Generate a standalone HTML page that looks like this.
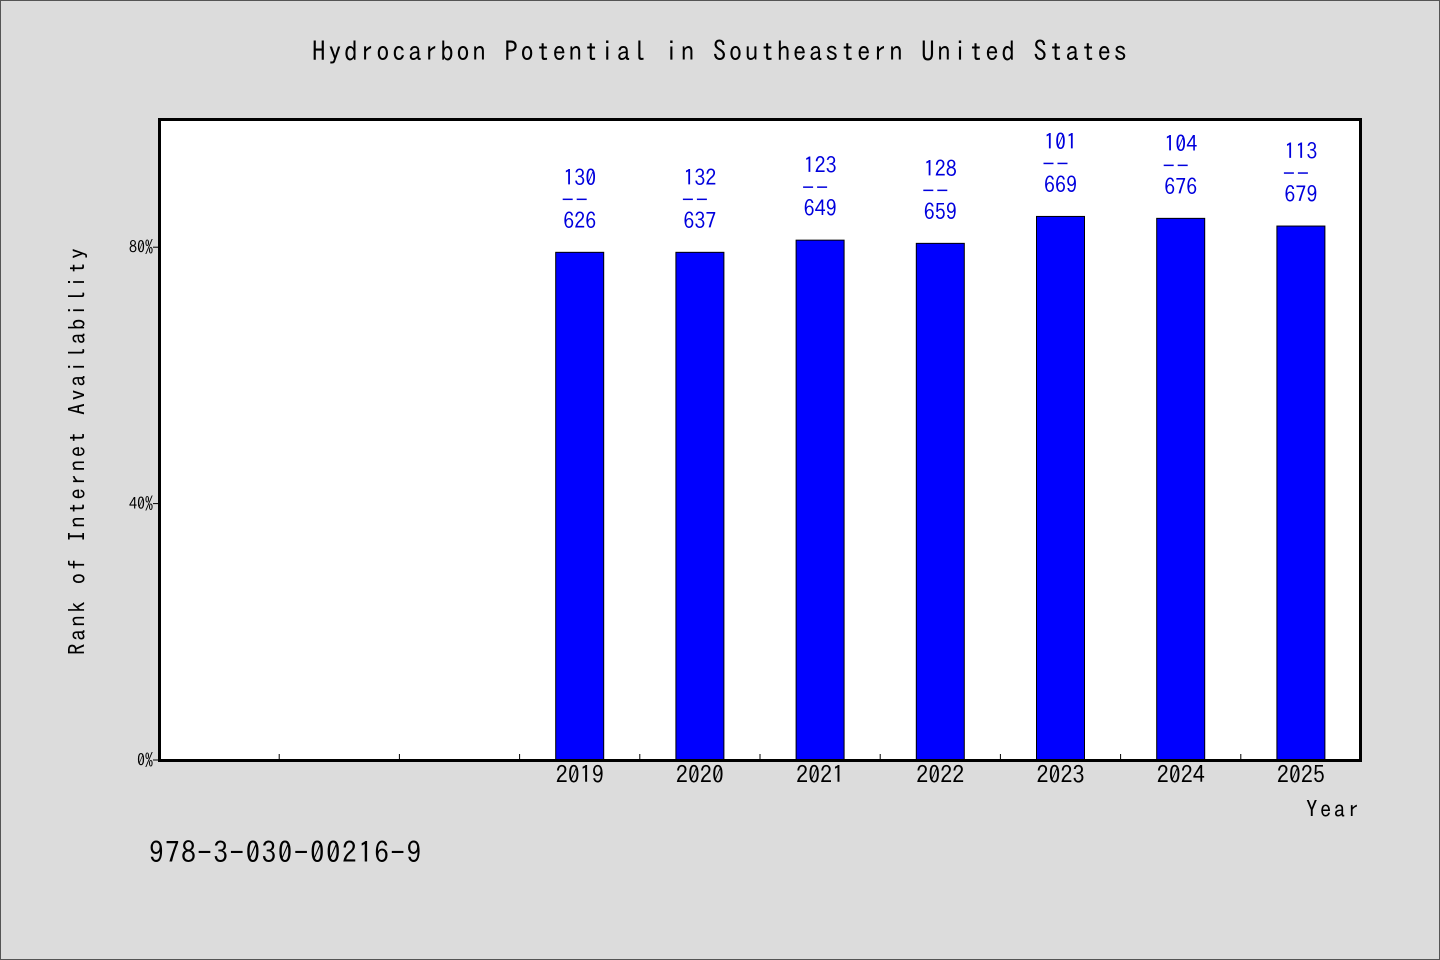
<!DOCTYPE html>
<html><head><meta charset="utf-8"><style>
html,body{margin:0;padding:0;background:#dcdcdc;}
body{width:1440px;height:960px;overflow:hidden;}
svg{display:block;}
svg text{font-family:"IPAGothic","Liberation Sans",sans-serif;}
</style></head><body>
<svg id="chart" width="1440" height="960" xmlns="http://www.w3.org/2000/svg">
<rect x="0.5" y="0.5" width="1439" height="959" fill="#dcdcdc" stroke="#555"/>
<text x="312" y="61" font-size="27" fill="#000" textLength="815" lengthAdjust="spacing">Hydrocarbon Potential in Southeastern United States</text>
<rect x="159.5" y="119.5" width="1201" height="641" fill="#fff" stroke="none"/>
<g id="ticks"></g>
<g id="bars"></g>
<rect x="159.5" y="119.5" width="1201" height="641" fill="none" stroke="#000" stroke-width="3"/>
<text transform="translate(85,655) rotate(-90)" font-size="23" fill="#000" textLength="407" lengthAdjust="spacing">Rank of Internet Availability</text>
<text x="1306" y="817" font-size="23" fill="#000" textLength="53" lengthAdjust="spacing">Year</text>
<text x="149" y="863" font-size="29" fill="#000" textLength="272" lengthAdjust="spacing">978-3-030-00216-9</text>
</svg>
<script>
const categories = ["", "", "", "2019", "2020", "2021", "2022", "2023", "2024", "2025"];
const values = [null, null, null, 79.2, 79.2, 81.1, 80.6, 84.8, 84.5, 83.3];
const topLabels = ["", "", "", "130", "132", "123", "128", "101", "104", "113"];
const bottomLabels = ["", "", "", "626", "637", "649", "659", "669", "676", "679"];
const yTicks = [0, 40, 80];

const NS = "http://www.w3.org/2000/svg";
const L = 159, R = 1361, T = 119, B = 760;
const slot = (R - L) / categories.length;
const xCenter = i => L + slot * (i + 0.5);
const y = v => B - (v / 100) * (B - T);
function mk(tag, attrs, parent, txt) {
  const e = document.createElementNS(NS, tag);
  for (const k in attrs) e.setAttribute(k, attrs[k]);
  if (txt !== undefined) e.textContent = txt;
  parent.appendChild(e);
  return e;
}
const tg = document.getElementById("ticks");
const bg = document.getElementById("bars");
yTicks.forEach(t => {
  const ln = mk("line", {x1: L - 6, x2: L, y1: y(t), y2: y(t), stroke: "#000"}, tg);
  
  
  const tx = mk("text", {x: L - 6, y: y(t) + 6, "text-anchor": "end", "font-size": "16", fill: "#000"}, tg, t + "%");
  
  
});
for (let i = 1; i < categories.length; i++) {
  const xx = L + slot * i;
  const ln = mk("line", {x1: xx, x2: xx, y1: B - 6, y2: B, stroke: "#000"}, tg);
  
  
}
categories.forEach((c, i) => {
  if (!c) return;
  const cx = xCenter(i);
  const tx = mk("text", {x: cx, y: B + 23, "text-anchor": "middle", "font-size": "24", fill: "#000"}, tg, c);
  
  
  const v = values[i];
  if (v == null) return;
  const top = y(v);
  const r = mk("rect", {x: cx - 24, y: top, width: 48, height: B - top, fill: "#0000ff", stroke: "#000", "stroke-width": 1}, bg);
  
  
  const g = mk("g", {fill: "#0000dd", "font-size": "22", "text-anchor": "middle"}, bg);
  
  
  mk("text", {x: cx, y: top - 67}, g, topLabels[i]);
  mk("line", {x1: cx - 17, x2: cx - 7, y1: top - 53, y2: top - 53, stroke: "#0000dd", "stroke-width": 1.5}, g);
  mk("line", {x1: cx - 3, x2: cx + 7, y1: top - 53, y2: top - 53, stroke: "#0000dd", "stroke-width": 1.5}, g);
  mk("text", {x: cx, y: top - 24}, g, bottomLabels[i]);
});
</script>
</body></html>
